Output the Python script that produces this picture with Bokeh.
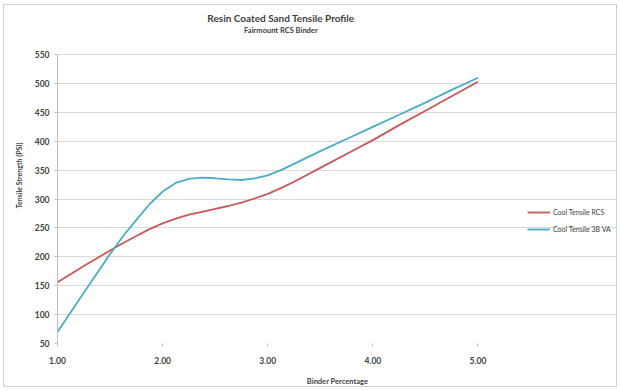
from bokeh.plotting import figure
from bokeh.models import Range1d, FixedTicker, Label, Legend, LegendItem, CustomJSTickFormatter
from bokeh.embed import file_html
from bokeh.resources import INLINE

# Binder percentage (x) and tensile strength (PSI)
binder_pct = [1.00, 1.25, 1.50, 1.625, 1.75, 1.875, 2.00, 2.125, 2.25, 2.375,
              2.50, 2.625, 2.75, 2.875, 3.00, 3.125, 3.25, 3.50, 3.75,
              4.00, 4.25, 4.50, 4.75, 5.00]
tensile_rcs = [156, 184, 211, 224, 236, 248, 258, 266, 273, 278,
               283, 288, 294, 301, 309, 319, 330, 354, 378,
               402, 428, 453, 478, 503]
tensile_b = [70, 138, 205, 236, 264, 291, 313, 328, 335, 337,
             336, 334, 333, 336, 341, 350, 361, 383, 404,
             425, 446, 467, 489, 510]

series_names = ["Cool Tensile RCS", "Cool Tensile 3B VA"]
x_ticks = [1, 2, 3, 4, 5]
y_ticks = [50, 100, 150, 200, 250, 300, 350, 400, 450, 500, 550]

FONT = "Lato"
TXT = "#404040"

# plot area 1..5.25 x 50..550; frame widened so titles/legend are not clipped
p = figure(width=614, height=383, output_backend="svg", toolbar_location=None,
           x_range=Range1d(1, 6.327), y_range=Range1d(50, 631.6),
           min_border_left=53, min_border_right=1, min_border_top=2,
           min_border_bottom=44)
p.styles = {"border": "1px solid #d0d0d0", "margin-left": "3px", "margin-top": "4px"}
p.outline_line_color = None
p.background_fill_color = "white"
p.border_fill_color = "white"

r1 = p.line(binder_pct, tensile_rcs, line_color="#c8585a", line_width=1.8)
r2 = p.line(binder_pct, tensile_b, line_color="#4bacc6", line_width=1.8)

# axes
p.xaxis.ticker = FixedTicker(ticks=x_ticks)
p.xaxis.formatter = CustomJSTickFormatter(code="return tick.toFixed(2);")
p.xaxis.bounds = (1, 5.25)
p.yaxis.ticker = FixedTicker(ticks=y_ticks)
p.yaxis.bounds = (50, 550)
p.xgrid.visible = False
p.ygrid.ticker = FixedTicker(ticks=y_ticks[1:])
p.ygrid.bounds = (1, 5.25)
p.ygrid.grid_line_color = "#d9d9d9"
p.ygrid.grid_line_width = 1

for ax in (p.xaxis[0], p.yaxis[0]):
    ax.major_label_text_font = FONT
    ax.major_label_text_font_size = "8.5px"
    ax.major_label_text_font_style = "bold"
    ax.major_label_text_color = TXT
    ax.axis_label_text_font = FONT
    ax.axis_label_text_font_style = "bold"
    ax.axis_label_text_color = TXT
    ax.major_tick_in = 0
    ax.major_tick_out = 3
    ax.major_tick_line_color = "#bfbfbf"
    ax.minor_tick_line_color = None

p.xaxis.axis_line_color = None
p.yaxis.axis_line_color = "#bfbfbf"
p.xaxis.major_label_standoff = 10
p.yaxis.major_label_standoff = 5
p.xaxis.axis_label = "Binder Percentage"
p.xaxis.axis_label_text_font_size = "7.5px"
p.xaxis.axis_label_standoff = 10
p.yaxis.axis_label = "Tensile Strength (PSI)"
p.yaxis.axis_label_text_font_size = "7px"
p.yaxis.axis_label_standoff = 9

# titles, centred over the plot area
p.add_layout(Label(x=3.125, y=614, text="Resin Coated Sand Tensile Profile",
                   text_align="center", text_baseline="middle",
                   text_font=FONT, text_font_size="10px", text_font_style="bold",
                   text_color=TXT))
p.add_layout(Label(x=3.125, y=592, text="Fairmount RCS Binder",
                   text_align="center", text_baseline="middle",
                   text_font=FONT, text_font_size="7.5px", text_font_style="bold",
                   text_color=TXT))

legend = Legend(items=[LegendItem(label=series_names[0], renderers=[r1]),
                       LegendItem(label=series_names[1], renderers=[r2])],
                location=(470, 109), orientation="vertical")
legend.label_text_font = FONT
legend.label_text_font_size = "7px"
legend.label_text_color = TXT
legend.glyph_width = 23
legend.glyph_height = 10
legend.label_height = 10
legend.spacing = 7
legend.padding = 0
legend.margin = 0
legend.label_standoff = 3
legend.border_line_color = None
legend.background_fill_alpha = 0
p.add_layout(legend, "center")

open("out.html", "w").write(file_html(p, INLINE))
